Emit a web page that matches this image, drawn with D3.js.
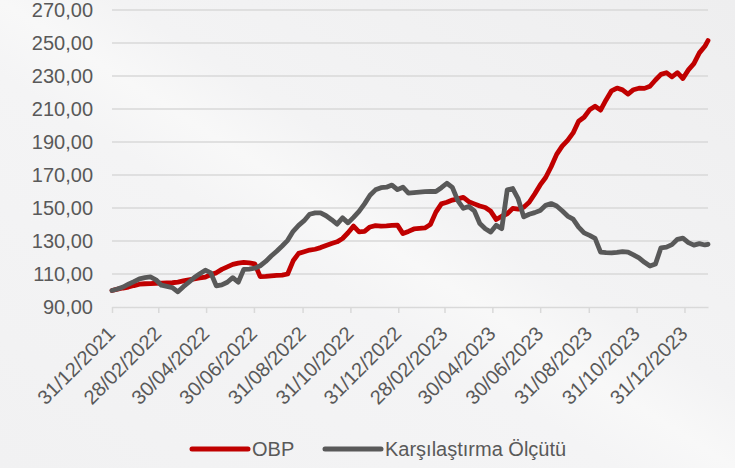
<!DOCTYPE html>
<html>
<head>
<meta charset="utf-8">
<script src="https://cdn.jsdelivr.net/npm/d3@7"></script>
<style>
    body { margin: 0; background: #f3f3f4; }
    svg { display: block; }
</style>
</head>
<body>
<svg width="735" height="468"></svg>
<script>

//Weekly dates of the two series (Friday closes), plus the last value of the period
var seriesDates = d3.timeDay.range(new Date(2021, 11, 31), new Date(2024, 0, 27), 7);
seriesDates.push(new Date(2024, 0, 30));

//Fund (OBP) values
var obpValues = [100,100.8,101.5,102.1,103,103.8,104.1,104.2,104.4,104.5,
    104.6,104.7,105.1,105.8,106.5,107.1,107.6,108.1,109.7,110.7,
    112.8,114.3,115.8,116.6,117,116.8,116.2,108.4,108.5,108.9,
    109.2,109.3,110,118,122.5,123.5,124.5,125,126,127.3,
    128.5,129.5,131.5,135,139,135.5,135.8,138.5,139.3,139,
    139.2,139.5,139.6,134.5,135.8,137.3,137.6,137.9,140,147.5,
    152.5,153.5,154.8,155.5,156.4,153.8,152.5,151.2,150.3,148,
    143,145,146.5,149.8,149.3,150.5,153.5,158.5,164,168.5,
    175,182.5,187.5,191,195.5,202.6,205,209.5,211.7,209.3,
    215.5,221,222.7,221.6,219,221.7,222.6,222.5,223.8,227.6,
    231,232,229.5,232,228.5,233.7,237.5,244,248,251.5];

//Benchmark values
var benchmarkValues = [100,100.9,102.1,103.8,105.4,107.1,107.8,108.2,106.5,103.2,
    102.5,101.8,99.2,102.3,105,107.9,110.2,112.3,110.7,102.8,
    103.4,105,107.8,105,112.8,113,113.5,115,117.6,120.9,
    123.8,127,130.4,135.9,139.5,142.3,146.2,147,147,145.3,
    142.9,140.2,144,141,144.3,147.9,152.5,157.7,161,162.3,
    162.6,163.9,161.1,162.6,159,159.3,159.6,159.9,160,160,
    162.3,165,162.5,154.5,149.8,150.9,148.3,140.6,137.4,135.4,
    139.5,137.5,161,161.8,155.5,144.6,146.2,147.2,148.5,151.6,
    152.7,151.2,148.3,145.1,143.3,138.4,134.9,133.4,131.6,123.3,
    122.9,122.8,123.1,123.6,123.3,121.6,119.8,117.1,114.8,116,
    125.9,126.3,127.8,131,131.7,129,127.5,128.4,127.6,128];

//Axis labels
var xTickLabels = ["31/12/2021", "28/02/2022", "30/04/2022", "30/06/2022", "31/08/2022", "31/10/2022",
    "31/12/2022", "28/02/2023", "30/04/2023", "30/06/2023", "31/08/2023", "31/10/2023", "31/12/2023"];
var yTicks = [90, 110, 130, 150, 170, 190, 210, 230, 250, 270];

var seriesNames = ["OBP", "Karşılaştırma Ölçütü"];
var seriesColors = ["#c00000", "#595959"];

var margin = {top: 10, right: 27, bottom: 161, left: 112},
    width = 735 - margin.left - margin.right,
    height = 468 - margin.top - margin.bottom;

var parseDay = d3.timeParse("%d/%m/%Y");
var fmt = d3.formatLocale({decimal: ",", thousands: ".", grouping: [3], currency: ["", ""]}).format(".2f");

var svg = d3.select("svg");

//Soft background gradient
var defs = svg.append("defs");
var grad = defs.append("linearGradient")
    .attr("id", "bg")
    .attr("x1", "0").attr("y1", "1").attr("x2", "1").attr("y2", "0");
grad.append("stop").attr("offset", "0").attr("stop-color", "#f1f1f2");
grad.append("stop").attr("offset", "0.42").attr("stop-color", "#f4f4f5");
grad.append("stop").attr("offset", "0.5").attr("stop-color", "#f8f8f8");
grad.append("stop").attr("offset", "0.58").attr("stop-color", "#f3f3f4");
grad.append("stop").attr("offset", "1").attr("stop-color", "#eeeeef");

svg.append("rect")
    .attr("width", 735)
    .attr("height", 468)
    .attr("fill", "url(#bg)");

var g = svg.append("g").attr("transform", "translate(" + margin.left + "," + margin.top + ")");

//Scales
var x = d3.scaleTime()
    .domain([new Date(2021, 11, 31), new Date(2024, 0, 30)])
    .range([0, width]);

var y = d3.scaleLinear()
    .domain([90, 270])
    .range([height, 0]);

//Horizontal gridlines
g.append("g")
    .selectAll("line")
    .data(yTicks.slice(1))
    .enter().append("line")
    .attr("x1", 0)
    .attr("x2", width)
    .attr("y1", function(d) { return y(d); })
    .attr("y2", function(d) { return y(d); })
    .attr("stroke", "#d9d9d9")
    .attr("stroke-width", 1.5);

//Y axis labels
var yAxis = g.append("g")
    .call(d3.axisLeft(y).tickValues(yTicks).tickFormat(fmt).tickSize(0).tickPadding(19));
yAxis.select(".domain").remove();
yAxis.selectAll(".tick text")
    .attr("fill", "#595959")
    .style("font-family", "'Liberation Sans', Arial, sans-serif")
    .style("font-size", "20px");

//X axis with two monthly ticks and rotated labels
var xAxis = g.append("g")
    .attr("transform", "translate(0," + height + ")")
    .call(d3.axisBottom(x)
        .tickValues(xTickLabels.map(parseDay))
        .tickFormat(d3.timeFormat("%d/%m/%Y"))
        .tickSizeInner(6)
        .tickSizeOuter(0));
xAxis.select(".domain")
    .attr("stroke", "#d9d9d9")
    .attr("stroke-width", 1.5);
xAxis.selectAll(".tick line")
    .attr("stroke", "#d9d9d9")
    .attr("stroke-width", 1.5);
xAxis.selectAll(".tick text")
    .attr("fill", "#595959")
    .style("font-family", "'Liberation Sans', Arial, sans-serif")
    .style("font-size", "20px")
    .attr("text-anchor", "end")
    .attr("x", 0)
    .attr("y", 0)
    .attr("dy", "0.35em")
    .attr("transform", "translate(-1,23) rotate(-45)");

//Lines
var line = d3.line()
    .x(function(d) { return x(d.date); })
    .y(function(d) { return y(d.value); });

var series = [obpValues, benchmarkValues].map(function(vals, i) {
    return {
        name: seriesNames[i],
        color: seriesColors[i],
        points: vals.map(function(v, j) { return {date: seriesDates[j], value: v}; })
    };
});

g.selectAll(".series")
    .data(series)
    .enter().append("path")
    .attr("class", "series")
    .attr("fill", "none")
    .attr("stroke", function(d) { return d.color; })
    .attr("stroke-width", 4.8)
    .attr("stroke-linejoin", "round")
    .attr("stroke-linecap", "round")
    .attr("d", function(d) { return line(d.points); });

//Legend at the bottom
var legendX = [192, 325];
var legend = svg.append("g")
    .selectAll("g")
    .data(series)
    .enter().append("g")
    .attr("transform", function(d, i) { return "translate(" + legendX[i] + ",449)"; });

legend.append("line")
    .attr("x1", 0)
    .attr("x2", 56)
    .attr("stroke", function(d) { return d.color; })
    .attr("stroke-width", 5)
    .attr("stroke-linecap", "round");

legend.append("text")
    .attr("x", 60)
    .attr("dy", "0.35em")
    .attr("fill", "#595959")
    .style("font-family", "'Liberation Sans', Arial, sans-serif")
    .style("font-size", "20px")
    .text(function(d) { return d.name; });

</script>
</body>
</html>
